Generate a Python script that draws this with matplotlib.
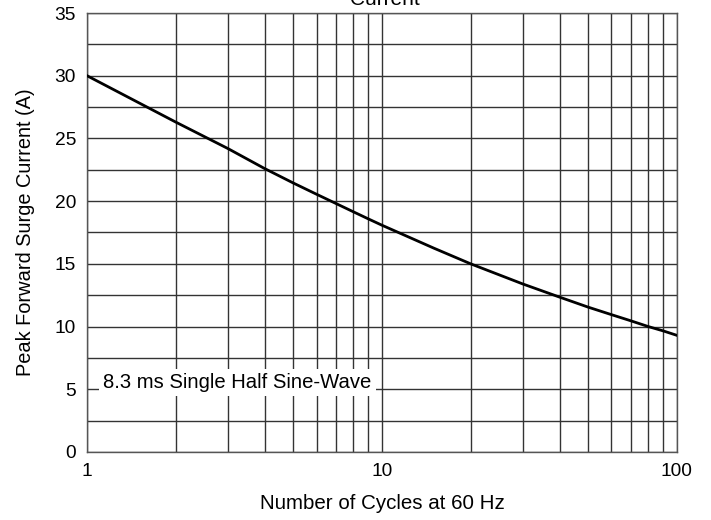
import numpy as np
import matplotlib
matplotlib.use('Agg')
import matplotlib.pyplot as plt
from matplotlib.ticker import FixedLocator, NullFormatter

plt.rcParams['font.family'] = ['Liberation Sans', 'DejaVu Sans']

# surge curve
cycles = [1, 2, 3, 4, 5, 6, 7, 8, 9, 10, 15, 20, 30, 40, 50, 60, 70, 80, 90, 100]
current = [30.0, 26.3, 24.2, 22.6, 21.45, 20.55, 19.8, 19.15, 18.58, 18.08,
           16.25, 15.0, 13.4, 12.35, 11.55, 10.95, 10.45, 10.0, 9.65, 9.3]

x_ticks = [1, 10, 100]
x_ticklabels = ['1', '10', '100']
y_ticks = [0, 5, 10, 15, 20, 25, 30, 35]

fig = plt.figure(figsize=(7.11, 5.2), dpi=100)
ax = fig.add_axes([0.1224, 0.1308, 0.8296, 0.8442])

ax.plot(cycles, current, color='black', lw=2, zorder=3)

ax.set_xscale('log')
ax.set_xlim(1, 100)
ax.set_ylim(0, 35)
ax.set_xticks(x_ticks)
ax.set_xticklabels(x_ticklabels)
ax.xaxis.set_minor_locator(FixedLocator([m * d for d in (1, 10) for m in range(2, 10)]))
ax.xaxis.set_minor_formatter(NullFormatter())
ax.set_yticks(y_ticks)
ax.yaxis.set_minor_locator(FixedLocator(np.arange(2.5, 35, 5)))

ax.grid(True, which='major', axis='both', color='#333333', lw=1)
ax.grid(True, which='minor', axis='both', color='#333333', lw=1)
ax.tick_params(which='both', length=0, labelsize=13.8, pad=8)
for s in ax.spines.values():
    s.set_color('#555555')
    s.set_linewidth(1)

ax.set_xlabel('Number of Cycles at 60 Hz', fontsize=14.8, labelpad=10)
ax.set_ylabel('Peak Forward Surge Current (A)', fontsize=14.4, labelpad=14)

ax.text(1.133, 5.1, '8.3 ms Single Half Sine-Wave', fontsize=14.6, va='baseline', ha='left',
        bbox=dict(facecolor='white', edgecolor='none', pad=3), zorder=4)

fig.text(0.541, 1 - 5 / 520, 'Current', fontsize=15, ha='center', va='baseline')

fig.savefig('out.png', dpi=100)
